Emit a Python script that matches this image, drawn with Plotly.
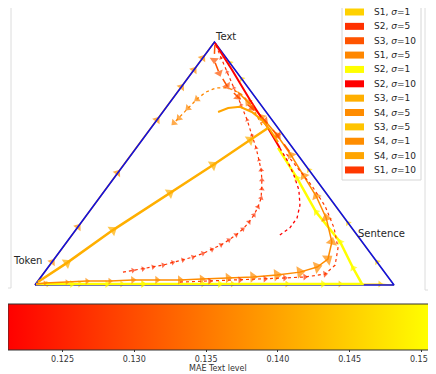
import plotly.graph_objects as go
from plotly.colors import sample_colorscale

# legend order and MAE (text level) per run
labels = ["S1, σ=1", "S2, σ=5", "S3, σ=10", "S1, σ=5", "S2, σ=1", "S2, σ=10",
          "S3, σ=1", "S4, σ=5", "S3, σ=5", "S4, σ=1", "S4, σ=10", "S1, σ=10"]
mae_text = [0.1453, 0.1269, 0.1309, 0.1368, 0.1506, 0.1212,
            0.1414, 0.1373, 0.1438, 0.1375, 0.1402, 0.1277]
cbar_ticks = [0.125, 0.130, 0.135, 0.140, 0.145, 0.150]

# trajectories in the triangle plane: Token=(0,0), Sentence=(1,0), Text=(0.5,1)
s4_1_x = [0, 0.048, 0.12, 0.23, 0.34, 0.408, 0.443, 0.467, 0.5]
s4_1_y = [0, 0.095, 0.239, 0.461, 0.679, 0.815, 0.885, 0.934, 1.0]

s1_1_x = [0, 0.036, 0.242, 0.468, 0.702, 0.961, 1.0, 0.953, 0.872, 0.763, 0.576, 0.543, 0.5]
s1_1_y = [0, 0.004, 0.004, 0.004, 0.004, 0.004, 0, 0.095, 0.255, 0.473, 0.848, 0.914, 1.0]

s3_5_x = [0, 0.125, 0.301, 0.55, 0.85, 1.0]
s3_5_y = [0, 0.004, 0.004, 0.004, 0.004, 0]

s2_1_x = [0.003, 0.103, 0.201, 0.301, 0.515, 0.802, 0.911, 0.886, 0.850, 0.783, 0.730, 0.677]
s2_1_y = [0.004, 0.004, 0.004, 0.004, 0.004, 0.004, 0.004, 0.070, 0.177, 0.300, 0.440, 0.564]

s3_1_x = [0.008, 0.089, 0.217, 0.376, 0.496, 0.599, 0.649]
s3_1_y = [0.012, 0.091, 0.226, 0.379, 0.494, 0.597, 0.646]

s4_10_x = [0.510, 0.538, 0.571, 0.604, 0.632, 0.655, 0.677]
s4_10_y = [0.712, 0.728, 0.733, 0.712, 0.679, 0.638, 0.588]

s4_5_x = [0.003, 0.028, 0.089, 0.145, 0.209, 0.273, 0.340, 0.404, 0.465, 0.538, 0.607, 0.674,
          0.738, 0.786, 0.816, 0.827, 0.811, 0.783, 0.749, 0.713, 0.674, 0.632, 0.593, 0.565]
s4_5_y = [0.004, 0.008, 0.012, 0.016, 0.016, 0.021, 0.021, 0.021, 0.025, 0.029, 0.033, 0.041,
          0.053, 0.074, 0.107, 0.177, 0.276, 0.366, 0.449, 0.535, 0.617, 0.691, 0.753, 0.794]

s1_10_x = [0.404, 0.487, 0.571, 0.641, 0.696, 0.752, 0.808, 0.836, 0.844, 0.833, 0.808, 0.772, 0.733, 0.696]
s1_10_y = [0.012, 0.016, 0.021, 0.025, 0.029, 0.033, 0.045, 0.082, 0.152, 0.235, 0.325, 0.407, 0.481, 0.547]

s2_5_x = [0.245, 0.273, 0.301, 0.329, 0.357, 0.384, 0.412, 0.440, 0.468, 0.493, 0.518, 0.540, 0.560,
          0.579, 0.596, 0.610, 0.621, 0.630, 0.632, 0.632, 0.630, 0.624, 0.616, 0.604, 0.591, 0.574,
          0.554, 0.535, 0.518, 0.501]
s2_5_y = [0.053, 0.060, 0.066, 0.074, 0.082, 0.093, 0.103, 0.115, 0.130, 0.146, 0.165, 0.185, 0.206,
          0.230, 0.259, 0.288, 0.321, 0.358, 0.395, 0.432, 0.473, 0.514, 0.564, 0.617, 0.679, 0.741,
          0.811, 0.877, 0.934, 0.996]

s2_10_x = [0.682, 0.710, 0.730, 0.738, 0.735, 0.721, 0.702, 0.682, 0.649, 0.599, 0.549, 0.501]
s2_10_y = [0.206, 0.235, 0.276, 0.329, 0.391, 0.453, 0.514, 0.564, 0.646, 0.761, 0.885, 0.996]

s1_5_x = [0.632, 0.599, 0.571, 0.538, 0.504, 0.476, 0.451, 0.426, 0.401, 0.387]
s1_5_y = [0.658, 0.749, 0.790, 0.811, 0.811, 0.794, 0.765, 0.728, 0.687, 0.667]

s3_10_x = [0.501, 0.499, 0.513, 0.535, 0.565, 0.604, 0.641, 0.677, 0.710]
s3_10_y = [0.988, 0.926, 0.872, 0.819, 0.774, 0.728, 0.675, 0.613, 0.547]

W, H = 436, 374
OFF = 8  # page body margin, the plot div starts 8px in
FONT = "DejaVu Sans"
SCALE = [[0, "rgb(255,0,0)"], [1, "rgb(255,255,0)"]]
vmin, vmax = min(mae_text), max(mae_text)


def run_color(label):
    v = mae_text[labels.index(label)]
    return sample_colorscale(SCALE, [(v - vmin) / (vmax - vmin)])[0]


def add_path(fig, x, y, label, width, dash, heads, head):
    color = run_color(label)
    sizes = [0] * len(x)
    for k, i in enumerate(heads):
        sizes[i] = head[k] if isinstance(head, list) else head
    fig.add_trace(go.Scatter(
        x=x, y=y, mode="lines+markers",
        line=dict(color=color, width=width, dash=dash),
        marker=dict(symbol="triangle-up", size=sizes, angleref="previous",
                    color=color, line_width=0),
        hoverinfo="skip", showlegend=False))


# window pixel -> paper fraction
def px_x(p):
    return (p - OFF) / W


def px_y(p):
    return 1 - (p - OFF) / H


fig = go.Figure()

# runs lying on the triangle edges go below the blue outline
add_path(fig, s4_1_x, s4_1_y, "S4, σ=1", 1.5, "solid", range(1, 8), 8)
add_path(fig, s3_5_x, s3_5_y, "S3, σ=5", 1.2, "solid", range(1, 5), 6)
add_path(fig, s1_1_x, s1_1_y, "S1, σ=1", 1.2, "solid", [1, 2, 3, 4, 5, 7, 8, 9, 10, 11], 6)

fig.add_trace(go.Scatter(
    x=[0, 1, 0.5, 0], y=[0, 0, 1, 0], mode="lines",
    line=dict(color="#1010e0", width=1.6),
    hoverinfo="skip", showlegend=False))

add_path(fig, s2_1_x, s2_1_y, "S2, σ=1", 2.5, "solid", [1, 2, 3, 4, 5, 7, 8, 9, 10], 7)
add_path(fig, s4_5_x, s4_5_y, "S4, σ=5", 1.5, "solid", range(1, 23),
         [5, 5, 6, 6, 7, 7, 8, 8, 9, 10, 11, 11, 11, 11, 10, 10, 9, 9, 9, 8, 8, 8])
add_path(fig, s1_10_x, s1_10_y, "S1, σ=10", 1.2, "dot", range(1, 7), 6)
add_path(fig, s2_5_x, s2_5_y, "S2, σ=5", 1.2, "dot", range(1, 29),
         [5] * 20 + [4] * 8)
add_path(fig, s2_10_x[:8], s2_10_y[:8], "S2, σ=10", 1.3, "dot", [], 0)
add_path(fig, s2_10_x[7:], s2_10_y[7:], "S2, σ=10", 2, "solid", [], 0)
add_path(fig, s1_5_x, s1_5_y, "S1, σ=5", 1.3, "dot", [6, 7, 8, 9], 7)
add_path(fig, s3_10_x, s3_10_y, "S3, σ=10", 1.5, "dash", range(1, 8), 8)
add_path(fig, s4_10_x, s4_10_y, "S4, σ=10", 2, "solid", [], 0)
add_path(fig, s3_1_x, s3_1_y, "S3, σ=1", 2.5, "solid", range(1, 6), 10)

# colour scale of the MAE
cb_left, cb_right = OFF, 430
fig.add_trace(go.Scatter(
    x=[0] * len(mae_text), y=[0] * len(mae_text), mode="markers",
    marker=dict(size=1, opacity=0, color=mae_text, colorscale=SCALE, cmin=vmin, cmax=vmax,
                showscale=True,
                colorbar=dict(
                    orientation="h", x=px_x((cb_left + cb_right) / 2), xanchor="center",
                    y=px_y(304), yanchor="top", len=(cb_right - cb_left) / W,
                    lenmode="fraction", thickness=46, xpad=0, ypad=0,
                    outlinewidth=1, outlinecolor="#333333",
                    tickvals=cbar_ticks, tickformat=".3f",
                    ticks="outside", ticklen=2, tickcolor="#333333",
                    tickfont=dict(size=8, color="#333333"))),
    hoverinfo="skip", showlegend=False))
fig.add_annotation(xref="paper", yref="paper", x=px_x(218), y=px_y(368),
                   text="MAE Text level", showarrow=False, xanchor="center",
                   yanchor="middle", font=dict(size=8, color="#333333"))

# vertex labels
fig.add_annotation(x=0.5, y=1, text="Text", showarrow=False, xanchor="left",
                   yanchor="bottom", xshift=-2, yshift=-2)
fig.add_annotation(x=0.035, y=0.08, text="Token", showarrow=False, xanchor="right",
                   yanchor="bottom", xshift=-4, yshift=-2)
fig.add_annotation(x=0.89, y=0.22, text="Sentence", showarrow=False, xanchor="left",
                   yanchor="middle", xshift=1, yshift=-2)

# frame remnants of the surrounding panels
shapes = []
for x0, y0, x1, y1 in [(0, 288, 11, 288), (11, 288, 11, 0),
                       (425, 0, 425, 290), (425, 290, 436, 290)]:
    shapes.append(dict(type="line", xref="paper", yref="paper",
                       x0=px_x(x0), y0=px_y(y0), x1=px_x(x1), y1=px_y(y1),
                       line=dict(color="#dcdcdc", width=1), layer="below"))

# legend drawn by hand so the rows stay tight
shapes.append(dict(type="rect", xref="paper", yref="paper",
                   x0=px_x(342), x1=px_x(421), y0=px_y(180), y1=px_y(3),
                   line=dict(color="#d6d6d6", width=1), fillcolor="rgba(255,255,255,0.85)"))
for i, lab in enumerate(labels):
    cy = 12 + 14.36 * i
    shapes.append(dict(type="rect", xref="paper", yref="paper",
                       x0=px_x(345), x1=px_x(364), y0=px_y(cy + 3.5), y1=px_y(cy - 3.5),
                       line=dict(width=0), fillcolor=run_color(lab)))
    name, sig = lab.split(", σ")
    fig.add_annotation(xref="paper", yref="paper", x=px_x(372), y=px_y(cy),
                       text=f"{name}, <i>σ</i>{sig}", showarrow=False,
                       xanchor="left", yanchor="middle", font=dict(size=9))

# triangle plane: Token sits at window pixel (35, 285), Sentence at x=394, Text at y=42
tok_x, tok_y, side_w, tri_h = 35 - OFF, 285 - OFF, 359, 243
plot_bottom = 298 - OFF

fig.update_layout(
    width=W, height=H,
    margin=dict(l=0, r=0, t=0, b=0, autoexpand=False),
    paper_bgcolor="white", plot_bgcolor="white",
    font=dict(family=FONT, size=10, color="#262626"),
    shapes=shapes,
    xaxis=dict(range=[-tok_x / side_w, (W - tok_x) / side_w], visible=False, fixedrange=True),
    yaxis=dict(range=[(tok_y - plot_bottom) / tri_h, tok_y / tri_h],
               domain=[1 - plot_bottom / H, 1], visible=False, fixedrange=True),
)

fig.write_html("out.html")
